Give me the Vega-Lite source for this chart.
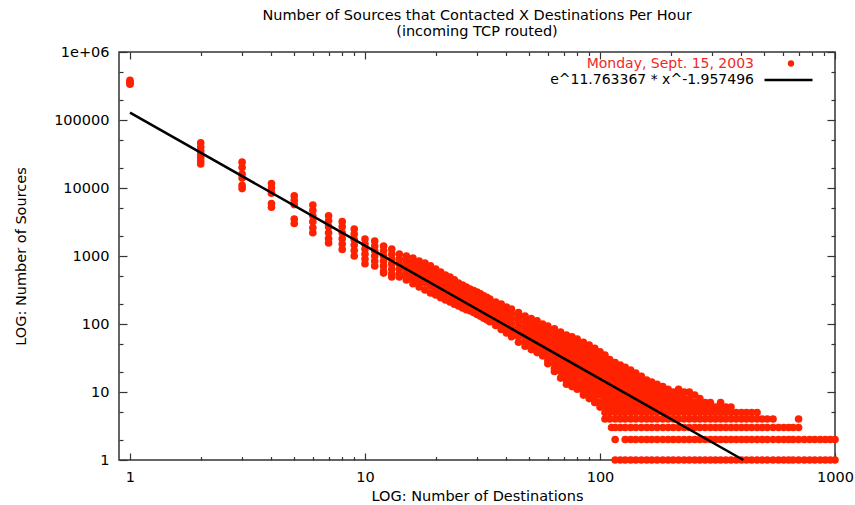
{
  "$schema": "https://vega.github.io/schema/vega-lite/v6.json",
  "width": 716,
  "height": 408,
  "autosize": {"type": "none"},
  "padding": {"left": 119, "top": 52, "right": 20, "bottom": 45},
  "background": "white",
  "title": {
    "text": ["Number of Sources that Contacted X Destinations Per Hour", "(incoming TCP routed)"],
    "font": "DejaVu Sans",
    "fontSize": 14.5,
    "fontWeight": "normal",
    "color": "#000",
    "anchor": "middle",
    "lineHeight": 16,
    "offset": 5
  },
  "config": {
    "view": {"stroke": "#333", "strokeWidth": 1.5},
    "axis": {
      "labelFont": "DejaVu Sans",
      "labelFontSize": 14.5,
      "labelColor": "#000",
      "titleFont": "DejaVu Sans",
      "titleFontSize": 14.5,
      "titleFontWeight": "normal",
      "titleColor": "#000",
      "domain": false,
      "grid": false,
      "tickColor": "#333",
      "tickWidth": 1.2
    }
  },
  "resolve": {
    "scale": {"x": "shared", "y": "shared"},
    "axis": {"x": "independent", "y": "independent"},
    "legend": {"fill": "independent", "stroke": "independent"}
  },
  "layer": [
    {
      "data": {"values": [
        {"dest":1,"src":335000},{"dest":1,"src":350000},{"dest":1,"src":365000},{"dest":1,"src":385000},
        {"dest":2,"src":22500},{"dest":2,"src":25000},{"dest":2,"src":28000},{"dest":2,"src":31000},{"dest":2,"src":35000},{"dest":2,"src":40000},{"dest":2,"src":46000},
        {"dest":3,"src":24000},{"dest":3,"src":20000},{"dest":3,"src":16000},{"dest":3,"src":14000},{"dest":3,"src":11000},{"dest":3,"src":9800},
        {"dest":4,"src":11600},{"dest":4,"src":10000},{"dest":4,"src":8400},{"dest":4,"src":5900},{"dest":4,"src":5200},
        {"dest":5,"src":7700},{"dest":5,"src":6600},{"dest":5,"src":5700},{"dest":5,"src":3500},{"dest":5,"src":3000},
        {"dest":6,"src":5600},{"dest":6,"src":4700},{"dest":6,"src":3900},{"dest":6,"src":3200},{"dest":6,"src":2600},{"dest":6,"src":2200},
        {"dest":7,"src":3900},{"dest":7,"src":3300},{"dest":7,"src":2700},{"dest":7,"src":2200},{"dest":7,"src":1800},{"dest":7,"src":1550},
        {"dest":8,"src":3200},{"dest":8,"src":2700},{"dest":8,"src":2200},{"dest":8,"src":1800},{"dest":8,"src":1500},{"dest":8,"src":1250},
        {"dest":9,"src":2500},{"dest":9,"src":2100},{"dest":9,"src":1750},{"dest":9,"src":1450},{"dest":9,"src":1200},{"dest":9,"src":1000},
        {"dest":10,"src":1780},{"dest":10,"src":1500},{"dest":10,"src":1270},{"dest":10,"src":1070},{"dest":10,"src":900},{"dest":10,"src":770},
        {"dest":11,"src":1660},{"dest":11,"src":1400},{"dest":11,"src":1190},{"dest":11,"src":1000},{"dest":11,"src":845},{"dest":11,"src":715},
        {"dest":12,"src":1400},{"dest":12,"src":1190},{"dest":12,"src":1000},{"dest":12,"src":845},{"dest":12,"src":715},{"dest":12,"src":600},{"dest":12,"src":560},
        {"dest":13,"src":1270},{"dest":13,"src":1070},{"dest":13,"src":900},{"dest":13,"src":765},{"dest":13,"src":645},{"dest":13,"src":545},{"dest":13,"src":490},
        {"dest":14,"src":1070},{"dest":14,"src":900},{"dest":14,"src":765},{"dest":14,"src":645},{"dest":14,"src":545},{"dest":14,"src":490},
        {"dest":15,"src":1000},{"dest":15,"src":845},{"dest":15,"src":715},{"dest":15,"src":600},{"dest":15,"src":510},{"dest":15,"src":445},
        {"dest":16,"src":935},{"dest":16,"src":790},{"dest":16,"src":665},{"dest":16,"src":560},{"dest":16,"src":475},{"dest":16,"src":392},
        {"dest":17,"src":845},{"dest":17,"src":715},{"dest":17,"src":600},{"dest":17,"src":510},{"dest":17,"src":430},{"dest":17,"src":350},
        {"dest":18,"src":790},{"dest":18,"src":665},{"dest":18,"src":560},{"dest":18,"src":475},{"dest":18,"src":400},{"dest":18,"src":316},
        {"dest":19,"src":715},{"dest":19,"src":600},{"dest":19,"src":510},{"dest":19,"src":430},{"dest":19,"src":362},{"dest":19,"src":286},
        {"dest":20,"src":645},{"dest":20,"src":545},{"dest":20,"src":460},{"dest":20,"src":387},{"dest":20,"src":327},{"dest":20,"src":267},
        {"dest":21,"src":580},{"dest":21,"src":490},{"dest":21,"src":414},{"dest":21,"src":350},{"dest":21,"src":296},{"dest":21,"src":244},
        {"dest":22,"src":525},{"dest":22,"src":445},{"dest":22,"src":375},{"dest":22,"src":316},{"dest":22,"src":267},{"dest":22,"src":225},
        {"dest":23,"src":490},{"dest":23,"src":414},{"dest":23,"src":350},{"dest":23,"src":296},{"dest":23,"src":250},{"dest":23,"src":211},
        {"dest":24,"src":445},{"dest":24,"src":375},{"dest":24,"src":316},{"dest":24,"src":267},{"dest":24,"src":225},{"dest":24,"src":196},
        {"dest":25,"src":400},{"dest":25,"src":338},{"dest":25,"src":286},{"dest":25,"src":241},{"dest":25,"src":203},{"dest":25,"src":184},
        {"dest":26,"src":375},{"dest":26,"src":316},{"dest":26,"src":267},{"dest":26,"src":225},{"dest":26,"src":190},{"dest":26,"src":172},
        {"dest":27,"src":350},{"dest":27,"src":296},{"dest":27,"src":250},{"dest":27,"src":211},{"dest":27,"src":178},{"dest":27,"src":162},
        {"dest":28,"src":327},{"dest":28,"src":277},{"dest":28,"src":233},{"dest":28,"src":196},{"dest":28,"src":166},{"dest":28,"src":156},
        {"dest":29,"src":310},{"dest":29,"src":262},{"dest":29,"src":222},{"dest":29,"src":187},{"dest":29,"src":158},{"dest":29,"src":147},
        {"dest":30,"src":296},{"dest":30,"src":250},{"dest":30,"src":211},{"dest":30,"src":178},{"dest":30,"src":150},{"dest":30,"src":138},
        {"dest":31,"src":277},{"dest":31,"src":233},{"dest":31,"src":196},{"dest":31,"src":166},{"dest":31,"src":140},{"dest":31,"src":130},
        {"dest":32,"src":259},{"dest":32,"src":218},{"dest":32,"src":184},{"dest":32,"src":156},{"dest":32,"src":131},{"dest":32,"src":122},
        {"dest":33,"src":246},{"dest":33,"src":207},{"dest":33,"src":175},{"dest":33,"src":148},{"dest":33,"src":124},{"dest":33,"src":115},
        {"dest":34,"src":233},{"dest":34,"src":196},{"dest":34,"src":166},{"dest":34,"src":140},{"dest":34,"src":118},{"dest":34,"src":108},
        {"dest":36,"src":211},{"dest":36,"src":178},{"dest":36,"src":150},{"dest":36,"src":126},{"dest":36,"src":108},{"dest":36,"src":95},
        {"dest":38,"src":196},{"dest":38,"src":166},{"dest":38,"src":140},{"dest":38,"src":118},{"dest":38,"src":100},{"dest":38,"src":83},
        {"dest":40,"src":178},{"dest":40,"src":150},{"dest":40,"src":126},{"dest":40,"src":108},{"dest":40,"src":90},{"dest":40,"src":74},
        {"dest":42,"src":166},{"dest":42,"src":140},{"dest":42,"src":118},{"dest":42,"src":100},{"dest":42,"src":85},{"dest":42,"src":71},{"dest":42,"src":65},
        {"dest":45,"src":147},{"dest":45,"src":126},{"dest":45,"src":108},{"dest":45,"src":90},{"dest":45,"src":76},{"dest":45,"src":65},{"dest":45,"src":54},
        {"dest":48,"src":131},{"dest":48,"src":111},{"dest":48,"src":93},{"dest":48,"src":79},{"dest":48,"src":67},{"dest":48,"src":56},{"dest":48,"src":47},
        {"dest":51,"src":120},{"dest":51,"src":102},{"dest":51,"src":86},{"dest":51,"src":73},{"dest":51,"src":61},{"dest":51,"src":52},{"dest":51,"src":42},
        {"dest":54,"src":111},{"dest":54,"src":93},{"dest":54,"src":79},{"dest":54,"src":67},{"dest":54,"src":56},{"dest":54,"src":47},{"dest":54,"src":40},{"dest":54,"src":38},
        {"dest":57,"src":100},{"dest":57,"src":85},{"dest":57,"src":71},{"dest":57,"src":60},{"dest":57,"src":51},{"dest":57,"src":43},{"dest":57,"src":38},{"dest":57,"src":34},
        {"dest":60,"src":93},{"dest":60,"src":79},{"dest":60,"src":67},{"dest":60,"src":56},{"dest":60,"src":47},{"dest":60,"src":40},{"dest":60,"src":34},{"dest":60,"src":29},{"dest":60,"src":26},
        {"dest":64,"src":85},{"dest":64,"src":71},{"dest":64,"src":60},{"dest":64,"src":51},{"dest":64,"src":43},{"dest":64,"src":36},{"dest":64,"src":31},{"dest":64,"src":26},{"dest":64,"src":22},{"dest":64,"src":20},
        {"dest":68,"src":76},{"dest":68,"src":65},{"dest":68,"src":54},{"dest":68,"src":46},{"dest":68,"src":39},{"dest":68,"src":33},{"dest":68,"src":28},{"dest":68,"src":23},{"dest":68,"src":20},{"dest":68,"src":16},
        {"dest":72,"src":69},{"dest":72,"src":58},{"dest":72,"src":49},{"dest":72,"src":42},{"dest":72,"src":35},{"dest":72,"src":30},{"dest":72,"src":25},{"dest":72,"src":21},{"dest":72,"src":18},{"dest":72,"src":15},{"dest":72,"src":13},
        {"dest":76,"src":65},{"dest":76,"src":54},{"dest":76,"src":46},{"dest":76,"src":39},{"dest":76,"src":33},{"dest":76,"src":28},{"dest":76,"src":23},{"dest":76,"src":20},{"dest":76,"src":17},{"dest":76,"src":14},{"dest":76,"src":12},
        {"dest":80,"src":60},{"dest":80,"src":51},{"dest":80,"src":43},{"dest":80,"src":36},{"dest":80,"src":31},{"dest":80,"src":26},{"dest":80,"src":22},{"dest":80,"src":19},{"dest":80,"src":16},{"dest":80,"src":13},{"dest":80,"src":11},
        {"dest":85,"src":54},{"dest":85,"src":46},{"dest":85,"src":39},{"dest":85,"src":33},{"dest":85,"src":28},{"dest":85,"src":23},{"dest":85,"src":20},{"dest":85,"src":17},{"dest":85,"src":14},{"dest":85,"src":12},{"dest":85,"src":10},{"dest":85,"src":9},
        {"dest":90,"src":49},{"dest":90,"src":42},{"dest":90,"src":35},{"dest":90,"src":30},{"dest":90,"src":25},{"dest":90,"src":21},{"dest":90,"src":18},{"dest":90,"src":15},{"dest":90,"src":13},{"dest":90,"src":11},{"dest":90,"src":9},{"dest":90,"src":8},
        {"dest":95,"src":44},{"dest":95,"src":38},{"dest":95,"src":32},{"dest":95,"src":27},{"dest":95,"src":23},{"dest":95,"src":19},{"dest":95,"src":16},{"dest":95,"src":14},{"dest":95,"src":12},{"dest":95,"src":10},{"dest":95,"src":8},{"dest":95,"src":7},
        {"dest":100,"src":39},{"dest":100,"src":33},{"dest":100,"src":28},{"dest":100,"src":24},{"dest":100,"src":20},{"dest":100,"src":17},{"dest":100,"src":14},{"dest":100,"src":12},{"dest":100,"src":10},{"dest":100,"src":9},{"dest":100,"src":7},{"dest":100,"src":6},
        {"dest":105,"src":35},{"dest":105,"src":30},{"dest":105,"src":25},{"dest":105,"src":21},{"dest":105,"src":18},{"dest":105,"src":15},{"dest":105,"src":13},{"dest":105,"src":11},{"dest":105,"src":9},{"dest":105,"src":8},{"dest":105,"src":7},{"dest":105,"src":6},{"dest":105,"src":5},{"dest":105,"src":4},
        {"dest":110,"src":30},{"dest":110,"src":25},{"dest":110,"src":21},{"dest":110,"src":18},{"dest":110,"src":15},{"dest":110,"src":13},{"dest":110,"src":11},{"dest":110,"src":9},{"dest":110,"src":8},{"dest":110,"src":7},{"dest":110,"src":6},{"dest":110,"src":5},{"dest":110,"src":4},
        {"dest":112,"src":3},
        {"dest":116,"src":27},{"dest":116,"src":23},{"dest":116,"src":19},{"dest":116,"src":16},{"dest":116,"src":14},{"dest":116,"src":12},{"dest":116,"src":10},{"dest":116,"src":9},{"dest":116,"src":8},{"dest":116,"src":7},{"dest":116,"src":6},{"dest":116,"src":5},{"dest":116,"src":4},{"dest":116,"src":3},{"dest":116,"src":2},{"dest":116,"src":1},
        {"dest":122,"src":25},{"dest":122,"src":21},{"dest":122,"src":18},{"dest":122,"src":15},{"dest":122,"src":13},{"dest":122,"src":11},{"dest":122,"src":9},{"dest":122,"src":8},{"dest":122,"src":7},{"dest":122,"src":6},{"dest":122,"src":5},{"dest":122,"src":4},{"dest":122,"src":3},{"dest":122,"src":1},
        {"dest":128,"src":23},{"dest":128,"src":19},{"dest":128,"src":16},{"dest":128,"src":14},{"dest":128,"src":12},{"dest":128,"src":10},{"dest":128,"src":9},{"dest":128,"src":8},{"dest":128,"src":7},{"dest":128,"src":6},{"dest":128,"src":5},{"dest":128,"src":4},{"dest":128,"src":3},{"dest":128,"src":2},{"dest":128,"src":1},
        {"dest":135,"src":21},{"dest":135,"src":18},{"dest":135,"src":15},{"dest":135,"src":13},{"dest":135,"src":11},{"dest":135,"src":9},{"dest":135,"src":8},{"dest":135,"src":7},{"dest":135,"src":6},{"dest":135,"src":5},{"dest":135,"src":4},{"dest":135,"src":3},{"dest":135,"src":2},{"dest":135,"src":1},
        {"dest":142,"src":19},{"dest":142,"src":16},{"dest":142,"src":14},{"dest":142,"src":12},{"dest":142,"src":10},{"dest":142,"src":9},{"dest":142,"src":8},{"dest":142,"src":7},{"dest":142,"src":6},{"dest":142,"src":5},{"dest":142,"src":4},{"dest":142,"src":3},{"dest":142,"src":2},{"dest":142,"src":1},
        {"dest":150,"src":17},{"dest":150,"src":14},{"dest":150,"src":12},{"dest":150,"src":10},{"dest":150,"src":9},{"dest":150,"src":8},{"dest":150,"src":7},{"dest":150,"src":6},{"dest":150,"src":5},{"dest":150,"src":4},{"dest":150,"src":3},{"dest":150,"src":2},{"dest":150,"src":1},
        {"dest":158,"src":15},{"dest":158,"src":13},{"dest":158,"src":11},{"dest":158,"src":9},{"dest":158,"src":8},{"dest":158,"src":7},{"dest":158,"src":6},{"dest":158,"src":5},{"dest":158,"src":4},{"dest":158,"src":3},{"dest":158,"src":2},{"dest":158,"src":1},
        {"dest":166,"src":14},{"dest":166,"src":12},{"dest":166,"src":10},{"dest":166,"src":9},{"dest":166,"src":8},{"dest":166,"src":7},{"dest":166,"src":6},{"dest":166,"src":5},{"dest":166,"src":4},{"dest":166,"src":3},{"dest":166,"src":2},{"dest":166,"src":1},
        {"dest":175,"src":13},{"dest":175,"src":11},{"dest":175,"src":9},{"dest":175,"src":8},{"dest":175,"src":7},{"dest":175,"src":6},{"dest":175,"src":5},{"dest":175,"src":4},{"dest":175,"src":3},{"dest":175,"src":2},{"dest":175,"src":1},
        {"dest":185,"src":12},{"dest":185,"src":10},{"dest":185,"src":9},{"dest":185,"src":8},{"dest":185,"src":7},{"dest":185,"src":6},{"dest":185,"src":5},{"dest":185,"src":4},{"dest":185,"src":3},{"dest":185,"src":2},{"dest":185,"src":1},
        {"dest":195,"src":11},{"dest":195,"src":9},{"dest":195,"src":8},{"dest":195,"src":7},{"dest":195,"src":6},{"dest":195,"src":5},{"dest":195,"src":4},{"dest":195,"src":3},{"dest":195,"src":2},{"dest":195,"src":1},
        {"dest":205,"src":10},{"dest":205,"src":8},{"dest":205,"src":7},{"dest":205,"src":6},{"dest":205,"src":5},{"dest":205,"src":4},{"dest":205,"src":3},{"dest":205,"src":2},{"dest":205,"src":1},
        {"dest":216,"src":11},{"dest":216,"src":9},{"dest":216,"src":8},{"dest":216,"src":7},{"dest":216,"src":6},{"dest":216,"src":5},{"dest":216,"src":4},{"dest":216,"src":3},{"dest":216,"src":2},{"dest":216,"src":1},
        {"dest":228,"src":10},{"dest":228,"src":8},{"dest":228,"src":7},{"dest":228,"src":6},{"dest":228,"src":5},{"dest":228,"src":4},{"dest":228,"src":3},{"dest":228,"src":2},{"dest":228,"src":1},
        {"dest":240,"src":10},{"dest":240,"src":8},{"dest":240,"src":7},{"dest":240,"src":6},{"dest":240,"src":5},{"dest":240,"src":4},{"dest":240,"src":3},{"dest":240,"src":2},{"dest":240,"src":1},
        {"dest":253,"src":9},{"dest":253,"src":7},{"dest":253,"src":6},{"dest":253,"src":5},{"dest":253,"src":4},{"dest":253,"src":3},{"dest":253,"src":2},{"dest":253,"src":1},
        {"dest":266,"src":8},{"dest":266,"src":7},{"dest":266,"src":6},{"dest":266,"src":5},{"dest":266,"src":4},{"dest":266,"src":3},{"dest":266,"src":2},{"dest":266,"src":1},
        {"dest":280,"src":7},{"dest":280,"src":6},{"dest":280,"src":5},{"dest":280,"src":4},{"dest":280,"src":3},{"dest":280,"src":2},{"dest":280,"src":1},
        {"dest":295,"src":7},{"dest":295,"src":6},{"dest":295,"src":5},{"dest":295,"src":4},{"dest":295,"src":3},{"dest":295,"src":2},{"dest":295,"src":1},
        {"dest":310,"src":6},{"dest":310,"src":5},{"dest":310,"src":4},{"dest":310,"src":3},{"dest":310,"src":2},{"dest":310,"src":1},
        {"dest":326,"src":7},{"dest":326,"src":6},{"dest":326,"src":5},{"dest":326,"src":4},{"dest":326,"src":3},{"dest":326,"src":2},{"dest":326,"src":1},
        {"dest":343,"src":6},{"dest":343,"src":5},{"dest":343,"src":4},{"dest":343,"src":3},{"dest":343,"src":2},{"dest":343,"src":1},
        {"dest":361,"src":6},{"dest":361,"src":5},{"dest":361,"src":4},{"dest":361,"src":3},{"dest":361,"src":2},{"dest":361,"src":1},
        {"dest":380,"src":5},{"dest":380,"src":4},{"dest":380,"src":3},{"dest":380,"src":2},{"dest":380,"src":1},
        {"dest":400,"src":5},{"dest":400,"src":4},{"dest":400,"src":3},{"dest":400,"src":2},{"dest":400,"src":1},
        {"dest":420,"src":5},{"dest":420,"src":4},{"dest":420,"src":3},{"dest":420,"src":2},{"dest":420,"src":1},
        {"dest":442,"src":5},{"dest":442,"src":4},{"dest":442,"src":3},{"dest":442,"src":2},{"dest":442,"src":1},
        {"dest":466,"src":5},{"dest":466,"src":4},{"dest":466,"src":3},{"dest":466,"src":2},{"dest":466,"src":1},
        {"dest":490,"src":4},{"dest":490,"src":3},{"dest":490,"src":2},{"dest":490,"src":1},
        {"dest":515,"src":4},{"dest":515,"src":3},{"dest":515,"src":2},{"dest":515,"src":1},
        {"dest":545,"src":4},{"dest":545,"src":3},{"dest":545,"src":2},{"dest":545,"src":1},
        {"dest":575,"src":3},{"dest":575,"src":2},{"dest":575,"src":1},
        {"dest":605,"src":3},{"dest":605,"src":2},{"dest":605,"src":1},
        {"dest":635,"src":3},{"dest":635,"src":2},{"dest":635,"src":1},
        {"dest":663,"src":3},{"dest":663,"src":2},{"dest":663,"src":1},
        {"dest":700,"src":4},{"dest":700,"src":3},{"dest":700,"src":2},{"dest":700,"src":1},
        {"dest":740,"src":2},{"dest":740,"src":1},
        {"dest":780,"src":2},{"dest":780,"src":1},
        {"dest":820,"src":2},{"dest":820,"src":1},
        {"dest":865,"src":2},{"dest":865,"src":1},
        {"dest":910,"src":2},{"dest":910,"src":1},
        {"dest":955,"src":2},{"dest":955,"src":1},
        {"dest":1000,"src":2},{"dest":1000,"src":1}
      ]},
      "mark": {"type": "circle", "size": 58, "opacity": 1},
      "encoding": {
        "x": {
          "field": "dest", "type": "quantitative",
          "scale": {"type": "log", "domain": [0.898, 1000], "nice": false},
          "axis": {"orient": "bottom", "values": [1, 10, 100, 1000], "format": "d", "tickSize": -7, "labelPadding": 17, "labelFlush": false, "title": "LOG: Number of Destinations", "titlePadding": 6}
        },
        "y": {
          "field": "src", "type": "quantitative",
          "scale": {"type": "log", "domain": [1, 1000000], "nice": false},
          "axis": {"orient": "left", "values": [1, 10, 100, 1000, 10000, 100000, 1000000], "labelExpr": "datum.value >= 1000000 ? '1e+06' : format(datum.value, 'd')", "tickSize": -8, "labelPadding": 18, "title": "LOG: Number of Sources", "titlePadding": 25}
        },
        "fill": {
          "datum": "Monday, Sept. 15, 2003",
          "scale": {"range": ["#ff2200"]},
          "legend": {"orient": "none", "legendX": 665, "legendY": 4.5, "padding": 0, "title": null, "symbolType": "circle", "symbolSize": 40, "symbolStrokeWidth": 0, "labelAlign": "right", "labelBaseline": "middle", "labelOffset": -44, "labelLimit": 400, "labelColor": "#f02828", "labelFont": "DejaVu Sans", "labelFontSize": 14}
        }
      }
    },
    {
      "data": {"values": [{"dest": 1, "src": 128460}, {"dest": 10, "src": 1417}, {"dest": 100, "src": 15.63}, {"dest": 407.4, "src": 1}]},
      "mark": {"type": "line", "strokeWidth": 2.5},
      "encoding": {
        "x": {"field": "dest", "type": "quantitative", "axis": {"orient": "bottom", "values": [2,3,4,5,6,7,8,9,20,30,40,50,60,70,80,90,200,300,400,500,600,700,800,900], "labels": false, "tickSize": -3.5, "title": null}},
        "y": {"field": "src", "type": "quantitative", "axis": {"orient": "left", "values": [2,5,20,50,200,500,2000,5000,20000,50000,200000,500000], "labels": false, "tickSize": -4, "title": null}},
        "stroke": {
          "datum": "e^11.763367 * x^-1.957496",
          "scale": {"range": ["#000000"]},
          "legend": {"orient": "none", "legendX": 644, "legendY": 2.5, "padding": 0, "title": null, "symbolType": "stroke", "symbolSize": 2304, "symbolStrokeWidth": 2.5, "symbolStrokeColor": "#000", "labelAlign": "right", "labelBaseline": "middle", "labelOffset": -60, "labelLimit": 400, "labelColor": "#000", "labelFont": "DejaVu Sans", "labelFontSize": 14}
        }
      }
    },
    {
      "data": {"values": [{"dest": 1, "src": 128460}, {"dest": 407.4, "src": 1}]},
      "mark": {"type": "line", "opacity": 0},
      "encoding": {
        "x": {"field": "dest", "type": "quantitative", "axis": {"orient": "top", "values": [1, 10, 100, 1000], "labels": false, "tickSize": -7, "title": null}},
        "y": {"field": "src", "type": "quantitative", "axis": {"orient": "right", "values": [1, 10, 100, 1000, 10000, 100000, 1000000], "labels": false, "tickSize": -8, "title": null}}
      }
    },
    {
      "data": {"values": [{"dest": 1, "src": 128460}, {"dest": 407.4, "src": 1}]},
      "mark": {"type": "line", "opacity": 0},
      "encoding": {
        "x": {"field": "dest", "type": "quantitative", "axis": {"orient": "top", "values": [2,3,4,5,6,7,8,9,20,30,40,50,60,70,80,90,200,300,400,500,600,700,800,900], "labels": false, "tickSize": -3.5, "title": null}},
        "y": {"field": "src", "type": "quantitative", "axis": {"orient": "right", "values": [2,5,20,50,200,500,2000,5000,20000,50000,200000,500000], "labels": false, "tickSize": -4, "title": null}}
      }
    }
  ]
}
